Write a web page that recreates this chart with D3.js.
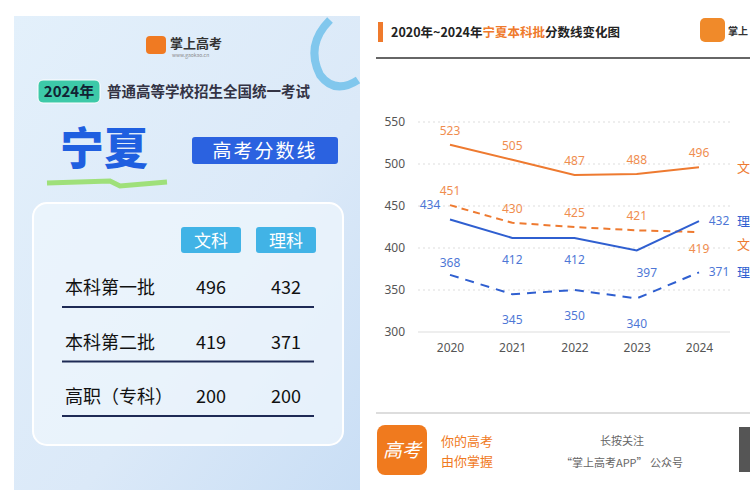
<!DOCTYPE html>
<html><head><meta charset="utf-8">
<script src="https://cdn.jsdelivr.net/npm/d3@7"></script>
<style>body{margin:0;background:#fff;font-family:"Noto Sans CJK SC",sans-serif}</style>
</head><body><div id="chart"></div>
<script>
var years = [2020, 2021, 2022, 2023, 2024];
var wen1 = [523, 505, 487, 488, 496];
var wen2 = [451, 430, 425, 421, 419];
var li1 = [434, 412, 412, 397, 432];
var li2 = [368, 345, 350, 340, 371];
var yTicks = [300, 350, 400, 450, 500, 550];
var rowNames = ["本科第一批", "本科第二批", "高职（专科）"];
var rowWen = [496, 419, 200];
var rowLi = [432, 371, 200];

var W = 750, H = 500;
var svg = d3.select("#chart").append("svg").attr("width", W).attr("height", H);
var defs = svg.append("defs");
var g1 = defs.append("linearGradient").attr("id", "bg").attr("x1", 0).attr("y1", 0).attr("x2", 1).attr("y2", 1);
g1.append("stop").attr("offset", "0%").attr("stop-color", "#e3f0fb");
g1.append("stop").attr("offset", "60%").attr("stop-color", "#dbe9f8");
g1.append("stop").attr("offset", "100%").attr("stop-color", "#c9def5");

// ---- left poster ----
var L = svg.append("g");
L.append("rect").attr("x", 14).attr("y", 16).attr("width", 346).attr("height", 474).attr("fill", "url(#bg)");
L.append("path").attr("d", "M330,20 Q305,45 320,75 Q335,95 358,80").attr("fill", "none").attr("stroke", "#5ab8e8").attr("stroke-width", 8).attr("opacity", 0.7);
L.append("rect").attr("x", 146).attr("y", 36).attr("width", 20).attr("height", 18).attr("rx", 4).attr("fill", "#f07a22");
L.append("text").attr("x", 170).attr("y", 48).attr("font-size", 13).attr("font-weight", "bold").attr("fill", "#333").text("掌上高考");
L.append("text").attr("x", 172).attr("y", 57).attr("font-size", 5).attr("fill", "#888").text("www.gaokao.cn");
L.append("rect").attr("x", 38).attr("y", 80).attr("width", 62).attr("height", 23).attr("rx", 5).attr("fill", "#3dc9a8").attr("stroke", "#fff");
L.append("text").attr("x", 69).attr("y", 97).attr("text-anchor", "middle").attr("font-size", 15).attr("font-weight", "bold").attr("fill", "#123").text("2024年");
L.append("text").attr("x", 107).attr("y", 97).attr("font-size", 14.5).attr("font-weight", "bold").attr("fill", "#334").text("普通高等学校招生全国统一考试");
L.append("text").attr("x", 60).attr("y", 165).attr("font-size", 44).attr("font-weight", "900").attr("fill", "#1f5fe0").text("宁夏");
L.append("path").attr("d", "M47,183 L110,181 L120,186 L167,182").attr("stroke", "#9fe07a").attr("stroke-width", 5).attr("fill", "none");
L.append("rect").attr("x", 192).attr("y", 137).attr("width", 146).attr("height", 27).attr("rx", 3).attr("fill", "#2b62e0");
L.append("text").attr("x", 265).attr("y", 158).attr("text-anchor", "middle").attr("font-size", 19).attr("fill", "#fff").attr("letter-spacing", 2).text("高考分数线");
L.append("rect").attr("x", 33).attr("y", 203).attr("width", 310).attr("height", 242).attr("rx", 14).attr("fill", "#eef5fc").attr("fill-opacity", 0.75).attr("stroke", "#fff").attr("stroke-width", 2);
[["文科", 211], ["理科", 286]].forEach(function(h) {
  L.append("rect").attr("x", h[1] - 30).attr("y", 227).attr("width", 60).attr("height", 26).attr("rx", 3).attr("fill", "#41b3e6");
  L.append("text").attr("x", h[1]).attr("y", 247).attr("text-anchor", "middle").attr("font-size", 17).attr("fill", "#fff").text(h[0]);
});
var rowY = d3.scalePoint().domain(rowNames).range([287, 396]);
rowNames.forEach(function(r, i) {
  var y = rowY(r);
  L.append("text").attr("x", 65).attr("y", y + 7).attr("font-size", 18).attr("fill", "#111").text(r);
  L.append("text").attr("x", 211).attr("y", y + 7).attr("text-anchor", "middle").attr("font-size", 18).attr("fill", "#111").text(rowWen[i]);
  L.append("text").attr("x", 286).attr("y", y + 7).attr("text-anchor", "middle").attr("font-size", 18).attr("fill", "#111").text(rowLi[i]);
  L.append("line").attr("x1", 62).attr("x2", 314).attr("y1", y + 20).attr("y2", y + 20).attr("stroke", "#1e2a55").attr("stroke-width", 2);
});

// ---- right chart ----
var R = svg.append("g");
R.append("rect").attr("x", 378).attr("y", 22).attr("width", 5).attr("height", 20).attr("fill", "#ef7a2c");
var t = R.append("text").attr("x", 391).attr("y", 37).attr("font-size", 12.5).attr("font-weight", "bold").attr("fill", "#222");
t.append("tspan").text("2020年~2024年");
t.append("tspan").attr("fill", "#ef7a2c").text("宁夏本科批");
t.append("tspan").text("分数线变化图");
R.append("rect").attr("x", 700).attr("y", 18).attr("width", 25).attr("height", 24).attr("rx", 5).attr("fill", "#f08a2a");
R.append("text").attr("x", 728).attr("y", 35).attr("font-size", 10).attr("font-weight", "bold").attr("fill", "#333").text("掌上");
R.append("line").attr("x1", 376).attr("x2", 750).attr("y1", 58).attr("y2", 58).attr("stroke", "#333").attr("stroke-width", 1.5);

var x = d3.scalePoint().domain(years).range([450, 699]);
var y = d3.scaleLinear().domain([300, 550]).range([332, 122]);
R.selectAll(".grid").data(yTicks).enter().append("line")
  .attr("x1", 418).attr("x2", 730).attr("y1", function(d) { return y(d); }).attr("y2", function(d) { return y(d); })
  .attr("stroke", "#ddd").attr("stroke-dasharray", function(d) { return d == 300 ? null : "2,3"; });
var ya = R.append("g").attr("transform", "translate(408,0)").call(d3.axisLeft(y).tickValues(yTicks).tickSize(0));
ya.select(".domain").remove();
ya.selectAll("text").attr("font-size", 12).attr("fill", "#555").attr("font-family", "Noto Sans");
var xa = R.append("g").attr("transform", "translate(0,338)").call(d3.axisBottom(x).tickSize(0));
xa.select(".domain").remove();
xa.selectAll("text").attr("font-size", 12).attr("fill", "#555").attr("font-family", "Noto Sans").attr("dy", "0.9em");

var orange = "#ee7a30", blue = "#2f5fd0";
var series = [
  {v: wen1, c: orange, dash: null, lab: "文", ly: 0, off: function(i) { return -14; }},
  {v: wen2, c: orange, dash: "7,5", lab: "文", ly: 12, off: function(i) { return i == 4 ? 17 : -14; }},
  {v: li1, c: blue, dash: null, lab: "理", ly: 0, off: function(i) { return i == 0 ? -14 : (i == 4 ? 0 : 22); }},
  {v: li2, c: blue, dash: "9,7", lab: "理", ly: 0, off: function(i) { return i == 0 ? -12 : (i == 4 ? 0 : 26); }}
];
var line = d3.line().x(function(d, i) { return x(years[i]); }).y(function(d) { return y(d); });
series.forEach(function(s, k) {
  R.append("path").datum(s.v).attr("d", line).attr("fill", "none").attr("stroke", s.c)
    .attr("stroke-width", 2).attr("stroke-dasharray", s.dash);
  s.v.forEach(function(d, i) {
    var dx = 0;
    if (k == 2 && i == 0) dx = -20;
    if (k >= 2 && i == 4) dx = 20;
    if (k == 2 && i == 3) dx = 10;
    R.append("text").attr("x", x(years[i]) + dx).attr("y", y(d) + s.off(i) + 4)
      .attr("text-anchor", "middle").attr("font-size", 12).attr("fill", s.c).attr("opacity", 0.85)
      .attr("font-family", "Noto Sans").text(d);
  });
  R.append("text").attr("x", 737).attr("y", y(s.v[4]) + s.ly + 5).attr("font-size", 13).attr("fill", s.c).text(s.lab);
});

// footer
R.append("line").attr("x1", 376).attr("x2", 750).attr("y1", 413).attr("y2", 413).attr("stroke", "#bbb");
R.append("rect").attr("x", 377).attr("y", 425).attr("width", 50).attr("height", 50).attr("rx", 8).attr("fill", "#f07a1e");
R.append("text").attr("x", 402).attr("y", 457).attr("text-anchor", "middle").attr("font-size", 19).attr("fill", "#fff").attr("font-style", "italic").text("高考");
R.append("text").attr("x", 441).attr("y", 446).attr("font-size", 13).attr("fill", "#f07a1e").text("你的高考");
R.append("text").attr("x", 441).attr("y", 466).attr("font-size", 13).attr("fill", "#f07a1e").text("由你掌握");
R.append("text").attr("x", 622).attr("y", 445).attr("text-anchor", "middle").attr("font-size", 11).attr("fill", "#666").text("长按关注");
R.append("text").attr("x", 622).attr("y", 467).attr("text-anchor", "middle").attr("font-size", 11).attr("fill", "#666").text("“掌上高考APP” 公众号");
R.append("rect").attr("x", 739).attr("y", 427).attr("width", 11).attr("height", 45).attr("fill", "#555");
</script></body></html>
